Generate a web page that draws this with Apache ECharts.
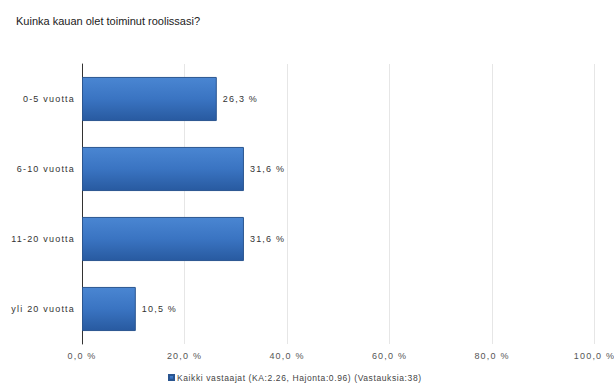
<!DOCTYPE html>
<html>
<head>
<meta charset="utf-8">
<script src="https://cdn.jsdelivr.net/npm/echarts@6/dist/echarts.min.js"></script>
<style>
  html, body { margin: 0; padding: 0; background: #fff; }
  #chart { width: 614px; height: 383px; }
  /* the source chart uses spaced-out small labels */
  #chart text { letter-spacing: 1.2px; }
  #chart text[style*="11px"] { letter-spacing: 0; }
  #chart text[style*="8.5px"] { letter-spacing: 0.6px; }
</style>
</head>
<body>
<div id="chart"></div>
<script>
const categories = ['0-5 vuotta', '6-10 vuotta', '11-20 vuotta', 'yli 20 vuotta']
const values = [26.3, 31.6, 31.6, 10.5]
const seriesName = 'Kaikki vastaajat (KA:2.26, Hajonta:0.96) (Vastauksia:38)'

const fmt = v => v.toFixed(1).replace('.', ',') + ' %'

const chart = echarts.init(document.getElementById('chart'), null, { renderer: 'svg' })
chart.setOption({
  animation: false,
  title: {
    text: 'Kuinka kauan olet toiminut roolissasi?',
    left: 11,
    top: 10,
    textStyle: { fontFamily: 'Liberation Sans', fontSize: 11, fontWeight: 'normal', color: '#222' }
  },
  legend: {
    data: [seriesName],
    left: 163,
    top: 368,
    itemWidth: 5,
    itemHeight: 5,
    itemGap: 2,
    icon: 'rect',
    textStyle: { fontFamily: 'Liberation Sans', fontSize: 8.5, color: '#444', padding: [0, 0, 0, -2] }
  },
  grid: { left: 82, right: 19, top: 64, height: 280 },
  xAxis: {
    type: 'value',
    min: 0,
    max: 100,
    interval: 20,
    axisLine: { show: false },
    axisTick: { show: false },
    splitLine: { lineStyle: { color: '#e6e6e6' } },
    axisLabel: {
      formatter: fmt,
      margin: 7,
      fontFamily: 'Liberation Sans',
      fontSize: 9,
      color: '#555'
    }
  },
  yAxis: {
    type: 'category',
    data: categories,
    inverse: true,
    axisLine: { show: true, lineStyle: { color: '#333' } },
    axisTick: { show: false },
    axisLabel: { margin: 7, fontFamily: 'Liberation Sans', fontSize: 9, color: '#333' }
  },
  series: [{
    name: seriesName,
    type: 'bar',
    data: values,
    barCategoryGap: '37%',
    itemStyle: {
      color: new echarts.graphic.LinearGradient(0, 0, 0, 1, [
        { offset: 0, color: '#4a86d2' },
        { offset: 0.5, color: '#3a74c2' },
        { offset: 1, color: '#285aa0' }
      ]),
      borderColor: '#2a5590',
      borderWidth: 1
    },
    label: {
      show: true,
      position: 'right',
      distance: 6,
      formatter: p => fmt(p.value),
      fontFamily: 'Liberation Sans',
      fontSize: 9,
      color: '#333'
    }
  }]
})
</script>
</body>
</html>
